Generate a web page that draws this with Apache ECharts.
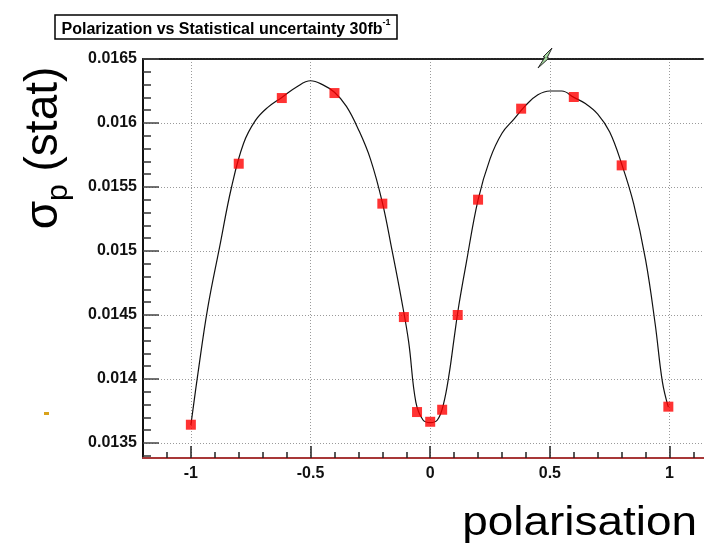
<!DOCTYPE html>
<html>
<head>
<meta charset="utf-8">
<script src="https://cdn.jsdelivr.net/npm/echarts@6/dist/echarts.min.js"></script>
<style>
  html, body { margin: 0; padding: 0; background: #ffffff; }
  #chart { width: 704px; height: 544px; }
</style>
</head>
<body>
<div id="chart"></div>
<script>
// Fitted curve through the statistical uncertainty points
const fitX = [-1.0, -0.97, -0.93, -0.88, -0.83, -0.78, -0.73, -0.68, -0.62, -0.56,
  -0.5, -0.45, -0.4, -0.35, -0.3, -0.25, -0.2, -0.16, -0.12, -0.09,
  -0.06, -0.03, 0.0, 0.03, 0.055, 0.08, 0.1, 0.12, 0.15, 0.2,
  0.25, 0.3, 0.35, 0.4, 0.45, 0.5, 0.55, 0.6, 0.65, 0.7,
  0.75, 0.8, 0.85, 0.9, 0.94, 0.97, 0.995];
const fitY = [0.01364, 0.01405, 0.01455, 0.01503, 0.01550, 0.01584, 0.01602, 0.01612, 0.01620, 0.01628,
  0.01633, 0.01630, 0.01624, 0.01613, 0.01595, 0.01572, 0.01538, 0.01501, 0.01462, 0.01429,
  0.01382, 0.01368, 0.01366, 0.01368, 0.01380, 0.01405, 0.01432, 0.01458, 0.01490, 0.01540,
  0.01572, 0.01592, 0.01603, 0.01614, 0.01622, 0.01625, 0.01625, 0.01620, 0.01615, 0.01607,
  0.01593, 0.01568, 0.01537, 0.01493, 0.01443, 0.01398, 0.01378];

// Measured points: polarisation vs sigma_p (stat)
const pointX = [-1.0, -0.8, -0.62, -0.4, -0.2, -0.11, -0.055, 0.0, 0.05, 0.115, 0.2, 0.38, 0.6, 0.8, 0.995];
const pointY = [0.013643, 0.015682, 0.016195, 0.016234, 0.01537, 0.014484, 0.013742, 0.013666,
  0.01376, 0.0145, 0.015401, 0.016112, 0.016203, 0.015669, 0.013784];

// Axis ranges and tick labels
const X_MIN = -1.2, X_MAX = 1.144;
const Y_MIN = 0.013383, Y_MAX = 0.0165;
const xTicks = [-1, -0.5, 0, 0.5, 1];
const xMinorTicks = [-1.1, -0.9, -0.8, -0.7, -0.6, -0.4, -0.3, -0.2, -0.1,
  0.1, 0.2, 0.3, 0.4, 0.6, 0.7, 0.8, 0.9, 1.1];
const yTicks = [0.0135, 0.014, 0.0145, 0.015, 0.0155, 0.016, 0.0165];
const yMinorTicks = [0.0134, 0.0136, 0.0137, 0.0138, 0.0139, 0.0141, 0.0142, 0.0143, 0.0144,
  0.0146, 0.0147, 0.0148, 0.0149, 0.0151, 0.0152, 0.0153, 0.0154, 0.0156, 0.0157, 0.0158, 0.0159,
  0.0161, 0.0162, 0.0163, 0.0164];

const TITLE = 'Polarization vs Statistical uncertainty 30fb';
const X_NAME = 'polarisation';

const FONT = '"Liberation Sans", Arial, Helvetica, sans-serif';
const gridDots = { color: '#9a9a9a', width: 1, type: [1, 2] };

const chart = echarts.init(document.getElementById('chart'), null, { renderer: 'canvas' });

chart.setOption({
  animation: false,
  backgroundColor: '#ffffff',
  grid: { left: 143, top: 59, width: 561, height: 399, containLabel: false },
  xAxis: [
    {
      type: 'value', min: X_MIN, max: X_MAX, position: 'bottom',
      axisLine: { show: true, onZero: false, lineStyle: { color: '#a83838', width: 2 } },
      axisTick: { show: true, inside: true, length: 12, customValues: xTicks,
        lineStyle: { color: '#222', width: 1.5 } },
      axisLabel: { show: true, customValues: xTicks, margin: 8, fontFamily: FONT,
        fontWeight: 'bold', fontSize: 16, color: '#111' },
      splitLine: { show: true, lineStyle: gridDots }
    },
    {
      type: 'value', min: X_MIN, max: X_MAX, position: 'top',
      axisLine: { show: true, onZero: false, lineStyle: { color: '#222', width: 2, type: [2, 1] } },
      axisTick: { show: false }, axisLabel: { show: false }, splitLine: { show: false }
    },
    {
      type: 'value', min: X_MIN, max: X_MAX, position: 'bottom',
      axisLine: { show: false, onZero: false },
      axisTick: { show: true, inside: true, length: 6, customValues: xMinorTicks,
        lineStyle: { color: '#222', width: 1.5 } },
      axisLabel: { show: false }, splitLine: { show: false }
    }
  ],
  yAxis: [
    {
      type: 'value', min: Y_MIN, max: Y_MAX, position: 'left',
      axisLine: { show: true, onZero: false, lineStyle: { color: '#111', width: 2 } },
      axisTick: { show: true, inside: true, length: 16, customValues: yTicks,
        lineStyle: { color: '#444', width: 1.5 } },
      axisLabel: { show: true, customValues: yTicks, margin: 6, fontFamily: FONT,
        fontWeight: 'bold', fontSize: 16, color: '#111' },
      splitLine: { show: true, lineStyle: gridDots }
    },
    {
      type: 'value', min: Y_MIN, max: Y_MAX, position: 'left',
      axisLine: { show: false, onZero: false },
      axisTick: { show: true, inside: true, length: 8, customValues: yMinorTicks,
        lineStyle: { color: '#333', width: 1.5 } },
      axisLabel: { show: false }, splitLine: { show: false }
    }
  ],
  series: [
    {
      name: 'fit', type: 'line', xAxisIndex: 0, yAxisIndex: 0,
      data: fitX.map((x, i) => [x, fitY[i]]),
      smooth: 0.4, showSymbol: false, symbol: 'none',
      lineStyle: { color: '#111', width: 1.2 }, z: 3
    },
    {
      name: 'points', type: 'scatter', xAxisIndex: 0, yAxisIndex: 0,
      data: pointX.map((x, i) => [x, pointY[i]]),
      symbol: 'rect', symbolSize: 10,
      itemStyle: { color: '#ff0000' }, z: 4
    }
  ],
  graphic: [
    {
      type: 'rect', x: 55, y: 15, z: 10,
      shape: { width: 342, height: 24 },
      style: { fill: '#ffffff', stroke: '#000000', lineWidth: 1.5 }
    },
    {
      type: 'text', x: 226, y: 28, z: 11,
      style: {
        text: '{t|' + TITLE + '}{s|-1}',
        align: 'center', verticalAlign: 'middle',
        rich: {
          t: { fontFamily: FONT, fontWeight: 'bold', fontSize: 16, fill: '#000', lineHeight: 20, verticalAlign: 'bottom' },
          s: { fontFamily: FONT, fontWeight: 'bold', fontSize: 9, fill: '#000', lineHeight: 20, verticalAlign: 'top' }
        }
      }
    },
    {
      type: 'text', x: 44, y: 148, rotation: Math.PI / 2, z: 10,
      style: {
        text: '{m|σ}{p|p}{m| (stat)}',
        align: 'center', verticalAlign: 'middle',
        rich: {
          m: { fontFamily: FONT, fontSize: 46, fill: '#000', lineHeight: 60, verticalAlign: 'middle' },
          p: { fontFamily: FONT, fontSize: 30, fill: '#000', lineHeight: 16, verticalAlign: 'bottom' }
        }
      }
    },
    {
      type: 'text', x: 697, y: 544, scaleX: 1.12, z: 10,
      style: {
        text: X_NAME, align: 'right', verticalAlign: 'bottom',
        fontFamily: FONT, fontSize: 41, fill: '#000'
      }
    },
    {
      type: 'rect', x: 44, y: 412, z: 10,
      shape: { width: 5, height: 3 },
      style: { fill: '#d9a21b' }
    },
    {
      type: 'polygon', z: 12,
      shape: { points: [[538, 68], [545, 57], [543, 57], [552, 48], [547, 58], [549, 58]] },
      style: { fill: '#a6dca0', stroke: '#2a2a2a', lineWidth: 1 }
    }
  ]
});
</script>
</body>
</html>
